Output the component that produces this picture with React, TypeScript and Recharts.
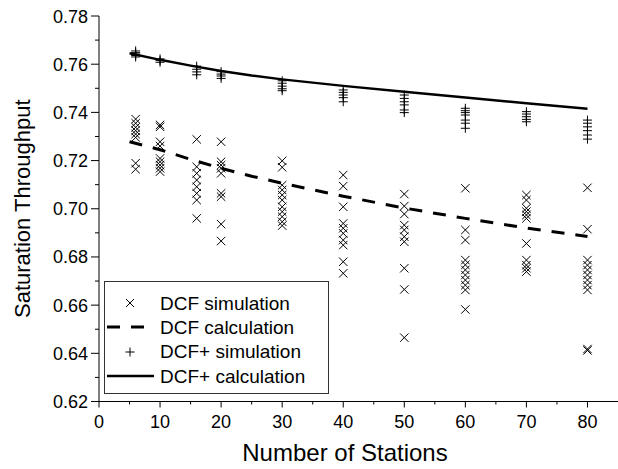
import React from 'react';
import { ScatterChart, Scatter, XAxis, YAxis, Legend, Label } from 'recharts';

const FONT = '"Liberation Sans", Arial, Helvetica, sans-serif';

// number of stations where the simulations were run
const stations = [6, 10, 16, 20, 30, 40, 50, 60, 70, 80];

// DCF simulation runs, one list per station count
const dcfSimulation = [
  [0.7372, 0.7355, 0.7338, 0.7324, 0.731, 0.7296, 0.7189, 0.7164],
  [0.7348, 0.734, 0.7278, 0.726, 0.7209, 0.7195, 0.7181, 0.7168, 0.7154],
  [0.7288, 0.7174, 0.7147, 0.7119, 0.7091, 0.7064, 0.7036, 0.696],
  [0.7278, 0.7195, 0.7181, 0.7168, 0.7147, 0.7064, 0.705, 0.6936, 0.6866],
  [0.7199, 0.7172, 0.7098, 0.7078, 0.7057, 0.7036, 0.7008, 0.6988, 0.6967, 0.6946, 0.693],
  [0.714, 0.7094, 0.7008, 0.6939, 0.6919, 0.6898, 0.687, 0.6849, 0.678, 0.6732],
  [0.7061, 0.7011, 0.6978, 0.6932, 0.6912, 0.6884, 0.6863, 0.6753, 0.6665, 0.6465],
  [0.7085, 0.6912, 0.687, 0.6787, 0.6767, 0.6746, 0.6725, 0.6704, 0.6683, 0.6663, 0.6582],
  [0.7057, 0.7036, 0.7002, 0.6988, 0.6974, 0.696, 0.6856, 0.6787, 0.6766, 0.6753, 0.6739],
  [0.7087, 0.6915, 0.6787, 0.6766, 0.6746, 0.6725, 0.6704, 0.6683, 0.6663, 0.6418, 0.6412],
];

// DCF+ simulation runs
const dcfPlusSimulation = [
  [0.7655, 0.7648, 0.7642, 0.7636, 0.763],
  [0.7622, 0.7615, 0.7608],
  [0.7592, 0.7579, 0.7568, 0.7556],
  [0.7569, 0.7559, 0.7551, 0.7541],
  [0.7531, 0.7521, 0.7509, 0.7498, 0.749],
  [0.7493, 0.7483, 0.7472, 0.7461, 0.7444],
  [0.7472, 0.7458, 0.7444, 0.7431, 0.741, 0.7399],
  [0.7417, 0.7407, 0.7399, 0.7389, 0.7368, 0.7355, 0.7334],
  [0.7403, 0.7393, 0.7382, 0.7371, 0.7361],
  [0.7368, 0.7355, 0.734, 0.7324, 0.7306, 0.7289],
];

// analytical curves
const calcStations = [5, 10, 15, 20, 25, 30, 40, 50, 60, 70, 80];
const dcfCalculation = [0.7278, 0.7245, 0.7205, 0.7168, 0.7135, 0.7106, 0.7052, 0.7003, 0.696, 0.692, 0.6885];
const dcfPlusCalculation = [0.7645, 0.7618, 0.7594, 0.7572, 0.7553, 0.7537, 0.751, 0.7486, 0.7462, 0.7438, 0.7415];

const xTicks = [0, 5, 10, 15, 20, 25, 30, 35, 40, 45, 50, 55, 60, 65, 70, 75, 80];
const yTicks = [0.62, 0.63, 0.64, 0.65, 0.66, 0.67, 0.68, 0.69, 0.7, 0.71, 0.72, 0.73, 0.74, 0.75, 0.76, 0.77, 0.78];

const toPoints = (xs: number[], runs: number[][]) =>
  xs.flatMap((n, i) => runs[i].map((v) => ({ x: n, y: v })));
const toCurve = (xs: number[], ys: number[]) => xs.map((n, i) => ({ x: n, y: ys[i] }));

const dcfSimPoints = toPoints(stations, dcfSimulation);
const dcfPlusSimPoints = toPoints(stations, dcfPlusSimulation);
const dcfCalcPoints = toCurve(calcStations, dcfCalculation);
const dcfPlusCalcPoints = toCurve(calcStations, dcfPlusCalculation);

const isMajorY = (v: number) => Math.round(v * 100) % 2 === 0;

const XMark = (props: any) => {
  const { cx, cy } = props;
  const r = 4.2;
  return (
    <path
      d={`M${cx - r},${cy - r}L${cx + r},${cy + r}M${cx - r},${cy + r}L${cx + r},${cy - r}`}
      stroke="#000"
      strokeWidth={1}
      fill="none"
    />
  );
};

const PlusMark = (props: any) => {
  const { cx, cy } = props;
  const r = 4.5;
  return (
    <path d={`M${cx - r},${cy}L${cx + r},${cy}M${cx},${cy - r}L${cx},${cy + r}`} stroke="#000" strokeWidth={1} fill="none" />
  );
};

const NoMark = () => <g />;

const BottomTick = (props: any) => {
  const { x, y, payload } = props;
  const major = payload.value % 10 === 0;
  return (
    <g>
      <line x1={x} x2={x} y1={y} y2={y + (major ? 6 : 3)} stroke="#000" />
      {major && (
        <text x={x} y={y + 26} textAnchor="middle" fontSize={18} fontFamily={FONT} fill="#000">
          {payload.value}
        </text>
      )}
    </g>
  );
};

const TopTick = (props: any) => {
  const { x, y, payload } = props;
  const major = payload.value % 10 === 0;
  return <line x1={x} x2={x} y1={y} y2={y + (major ? 7 : 4)} stroke="#000" />;
};

const LeftTick = (props: any) => {
  const { x, y, payload } = props;
  const major = isMajorY(payload.value);
  return (
    <g>
      <line x1={x - (major ? 8 : 4)} x2={x} y1={y} y2={y} stroke="#000" />
      {major && (
        <text x={x - 11} y={y + 6.5} textAnchor="end" fontSize={18} fontFamily={FONT} fill="#000">
          {payload.value.toFixed(2)}
        </text>
      )}
    </g>
  );
};

const RightTick = (props: any) => {
  const { x, y, payload } = props;
  const major = isMajorY(payload.value);
  return <line x1={x - (major ? 8 : 4)} x2={x} y1={y} y2={y} stroke="#000" />;
};

const legendRows = [
  { label: 'DCF simulation', kind: 'x' },
  { label: 'DCF calculation', kind: 'dash' },
  { label: 'DCF+ simulation', kind: 'plus' },
  { label: 'DCF+ calculation', kind: 'solid' },
];

const LegendSymbol = ({ kind }: { kind: string }) => (
  <svg width={48} height={20} style={{ display: 'block' }}>
    {kind === 'x' && <path d="M20,6L28,14M20,14L28,6" stroke="#000" fill="none" />}
    {kind === 'plus' && <path d="M19.5,10L28.5,10M24,5.5L24,14.5" stroke="#000" fill="none" />}
    {kind === 'dash' && <line x1={1} x2={48} y1={10} y2={10} stroke="#000" strokeWidth={3} strokeDasharray="13 11" />}
    {kind === 'solid' && <line x1={1} x2={48} y1={10} y2={10} stroke="#000" strokeWidth={2.5} />}
  </svg>
);

const LegendBox = () => (
  <div
    style={{
      width: 225,
      height: 113,
      boxSizing: 'border-box',
      border: '1px solid #333',
      background: '#fff',
      padding: '9px 0 0 1px',
      fontFamily: FONT,
      fontSize: 19,
      lineHeight: 1,
      color: '#000',
    }}
  >
    {legendRows.map((r) => (
      <div key={r.label} style={{ display: 'flex', alignItems: 'center', height: 24.3 }}>
        <LegendSymbol kind={r.kind} />
        <span style={{ marginLeft: 6, whiteSpace: 'nowrap' }}>{r.label}</span>
      </div>
    ))}
  </div>
);

export default function App() {
  return (
    <div style={{ position: 'absolute', left: 0, top: 0, width: 618, height: 469, background: '#fff', overflow: 'hidden' }}>
      <ScatterChart width={618} height={469} margin={{ top: 16, right: 0, bottom: 0, left: 0 }}>
        <XAxis
          xAxisId="main"
          type="number"
          dataKey="x"
          domain={[0, 85]}
          ticks={xTicks}
          interval={0}
          height={67.5}
          tickSize={0}
          tickMargin={0}
          tick={<BottomTick />}
          axisLine={{ stroke: '#000' }}
        >
          <Label
            content={(p: any) => {
              const vb = p.viewBox;
              return (
                <text x={vb.x + 246} y={vb.y + 59} textAnchor="middle" fontSize={24} fontFamily={FONT} fill="#000">
                  Number of Stations
                </text>
              );
            }}
          />
        </XAxis>
        <XAxis
          xAxisId="top"
          orientation="top"
          type="number"
          dataKey="x"
          domain={[0, 85]}
          ticks={xTicks}
          interval={0}
          height={0}
          tickSize={0}
          tickMargin={0}
          tick={<TopTick />}
          axisLine={{ stroke: '#000' }}
        />
        <YAxis
          yAxisId="main"
          type="number"
          dataKey="y"
          domain={[0.62, 0.78]}
          ticks={yTicks}
          interval={0}
          width={99}
          tickSize={0}
          tickMargin={0}
          tick={<LeftTick />}
          axisLine={{ stroke: '#000' }}
        >
          <Label
            content={(p: any) => {
              const vb = p.viewBox;
              const cx = vb.x + 22;
              const cy = vb.y + vb.height / 2;
              return (
                <text x={cx} y={cy} transform={`rotate(-90 ${cx} ${cy})`} textAnchor="middle" dominantBaseline="central" fontSize={22} fontFamily={FONT} fill="#000">
                  Saturation Throughput
                </text>
              );
            }}
          />
        </YAxis>
        <YAxis
          yAxisId="right"
          orientation="right"
          type="number"
          dataKey="y"
          domain={[0.62, 0.78]}
          ticks={yTicks}
          interval={0}
          width={0}
          tickSize={0}
          tickMargin={0}
          tick={<RightTick />}
          axisLine={{ stroke: '#000' }}
        />
        <Scatter
          name="DCF calculation"
          data={dcfCalcPoints}
          xAxisId="main"
          yAxisId="main"
          line={{ stroke: '#000', strokeWidth: 3, strokeDasharray: '13 11' }}
          lineType="joint"
          shape={<NoMark />}
          isAnimationActive={false}
        />
        <Scatter
          name="DCF+ calculation"
          data={dcfPlusCalcPoints}
          xAxisId="main"
          yAxisId="main"
          line={{ stroke: '#000', strokeWidth: 2.5 }}
          lineType="joint"
          shape={<NoMark />}
          isAnimationActive={false}
        />
        <Scatter name="DCF simulation" data={dcfSimPoints} xAxisId="main" yAxisId="main" shape={<XMark />} isAnimationActive={false} />
        <Scatter name="DCF+ simulation" data={dcfPlusSimPoints} xAxisId="main" yAxisId="main" shape={<PlusMark />} isAnimationActive={false} />
        <Legend
          layout="horizontal"
          verticalAlign="middle"
          align="center"
          content={<LegendBox />}
          wrapperStyle={{ left: 104, top: 281, width: 225, height: 113 }}
        />
      </ScatterChart>
    </div>
  );
}
